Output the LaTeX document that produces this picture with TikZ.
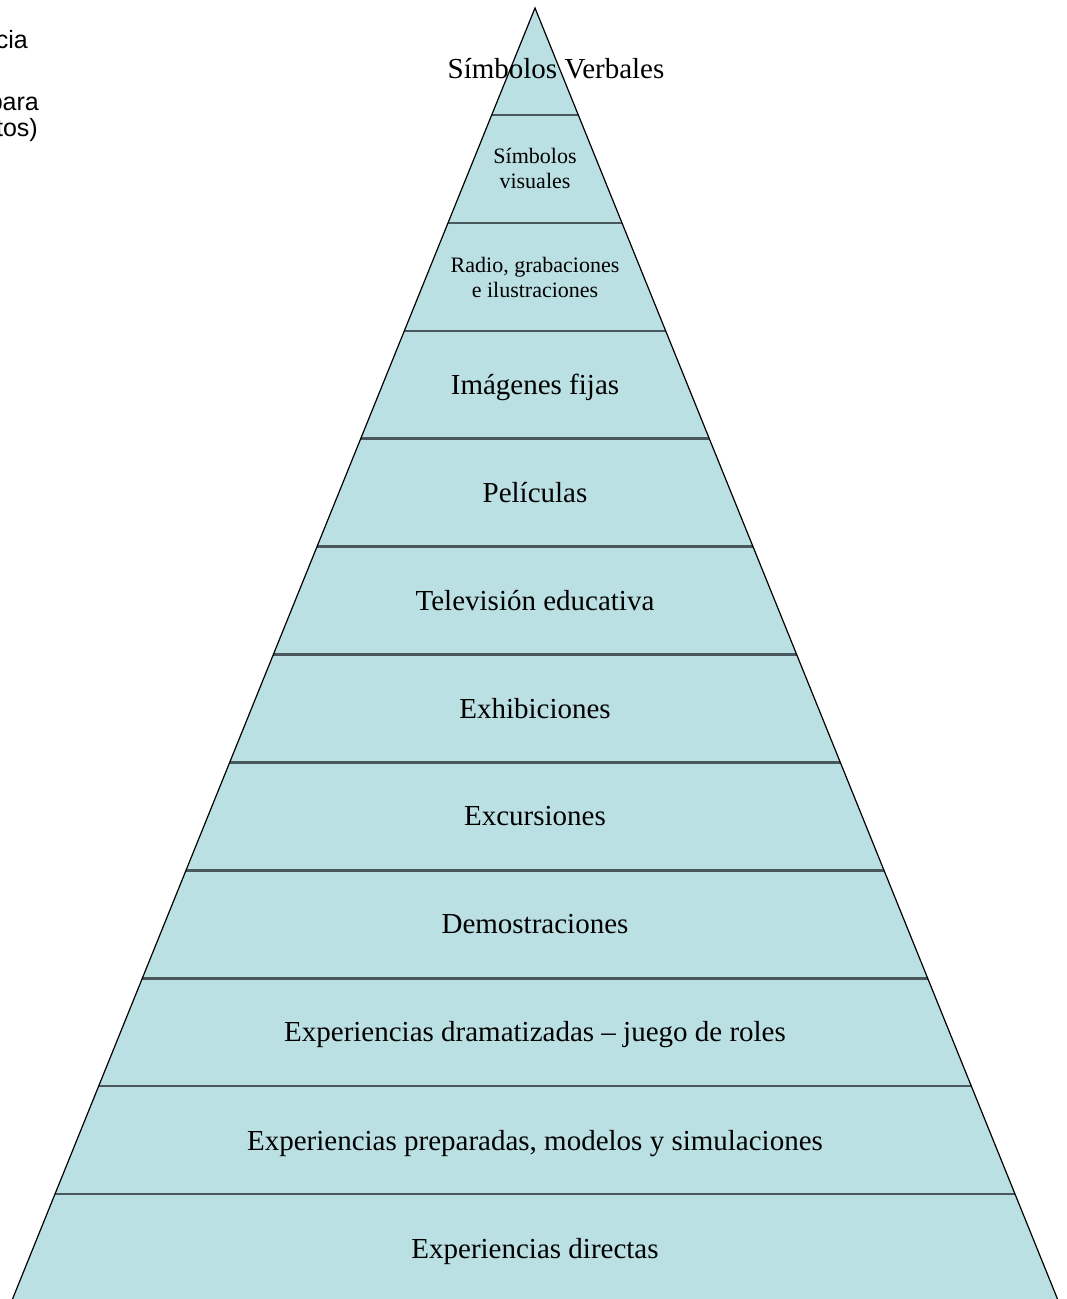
\documentclass[tikz,border=0pt]{standalone}
\usepackage{fontspec}
\setmainfont{Liberation Serif}
\newfontfamily\notesans{Liberation Sans}
\definecolor{bandfill}{RGB}{187,224,227}
\definecolor{dividercol}{RGB}{72,88,92}
\begin{document}
\begin{tikzpicture}[x=1pt,y=-1pt,
  edgeline/.style={draw=black,line width=1.2pt},
  divline/.style={draw=dividercol,line width=2.6pt},
  biglbl/.style={font=\fontsize{29}{33}\selectfont,inner sep=0pt,text height=19.2pt,text depth=0pt},
  smalllbl/.style={font=\fontsize{22}{25}\selectfont,inner sep=0pt,align=center},
  sidenote/.style={font=\notesans\fontsize{25}{27}\selectfont,inner sep=0pt,anchor=base east}]
\useasboundingbox (0,0) rectangle (1066,1299);
\clip (0,0) rectangle (1066,1299);
% pyramid body: apex at (535,8), half-width grows 0.4047 per unit of depth
\coordinate (apex) at (535,8);
\coordinate (baseL) at (11.3,1302);
\coordinate (baseR) at (1058.7,1302);
\fill[bandfill] (apex) -- (baseL) -- (baseR) -- cycle;
% level dividers
\foreach \k in {0,...,10}{
  \pgfmathsetmacro\yy{115+107.9*\k}
  \pgfmathsetmacro\hw{0.4047*(\yy-8)}
  \draw[divline] (535-\hw,\yy) -- (535+\hw,\yy);
}
\draw[edgeline] (baseL) -- (apex) -- (baseR);
% level labels
\node[biglbl,anchor=base] (verbal) at (556,78) {Símbolos Verbales};
\node[smalllbl] (visual) at (535,168) {Símbolos\\visuales};
\node[smalllbl] (radio) at (535,277) {Radio, grabaciones\\e ilustraciones};
\node[biglbl] (fijas) at (535,384.7) {Imágenes fijas};
\node[biglbl] (peli) at (535,492.6) {Películas};
\node[biglbl] (tele) at (535,600.5) {Televisión educativa};
\node[biglbl] (exhib) at (535,708.4) {Exhibiciones};
\node[biglbl] (excur) at (535,816.3) {Excursiones};
\node[biglbl] (demo) at (535,924.2) {Demostraciones};
\node[biglbl] (drama) at (535,1032.1) {Experiencias dramatizadas – juego de roles};
\node[biglbl] (prep) at (535,1141) {Experiencias preparadas, modelos y simulaciones};
\node[biglbl] (direct) at (535,1248.5) {Experiencias directas};
% side note running off the left margin
\node[sidenote] (noteA) at (28,48) {cia};
\node[sidenote] (noteB) at (39,110.5) {para};
\node[sidenote] (noteC) at (38,136.5) {tos)};
\end{tikzpicture}
\end{document}
